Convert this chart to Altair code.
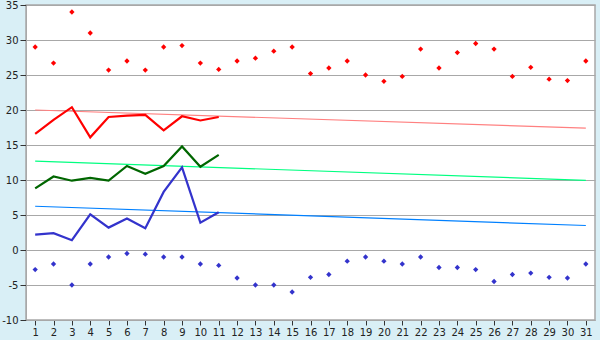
import altair as alt
import pandas as pd

days = list(range(1, 32))
max_pts = [29, 26.7, 34, 31, 25.7, 27, 25.7, 29, 29.2, 26.7, 25.8, 27, 27.4, 28.4, 29,
           25.2, 26, 27, 25, 24.1, 24.8, 28.7, 26, 28.2, 29.5, 28.7, 24.8, 26.1, 24.4, 24.2, 27]
min_pts = [-2.8, -2, -5, -2, -1, -0.5, -0.6, -1, -1, -2, -2.2, -4, -5, -5, -6,
           -3.9, -3.5, -1.6, -1, -1.6, -2, -1, -2.5, -2.5, -2.8, -4.5, -3.5, -3.3, -3.9, -4, -2]

line_days = list(range(1, 12))
red_line = [16.6, 18.6, 20.4, 16.1, 19.0, 19.2, 19.3, 17.1, 19.1, 18.5, 19.0]
green_line = [8.8, 10.5, 9.9, 10.3, 9.9, 12.0, 10.9, 12.0, 14.8, 11.9, 13.6]
blue_line = [2.2, 2.4, 1.4, 5.1, 3.2, 4.5, 3.1, 8.3, 11.8, 3.9, 5.4]

trend_days = [1, 31]
red_trend = [20.0, 17.4]
green_trend = [12.7, 9.95]
blue_trend = [6.25, 3.5]

xs = alt.Scale(domain=[0.5, 31.5], nice=False, zero=False)
ys = alt.Scale(domain=[-10, 35], nice=False, zero=False)

xax = alt.Axis(values=days, title=None, grid=False, tickSize=5, labelPadding=2,
               domainColor="#a8a8a8", tickColor="#333333", labelColor="#222222",
               labelFont="DejaVu Sans", labelFontSize=10, labelFlush=False)
yax = alt.Axis(values=list(range(-10, 40, 5)), title=None, grid=True, gridColor="#a8a8a8",
               tickSize=6, labelPadding=2, domainColor="#a8a8a8", tickColor="#333333",
               labelColor="#222222", labelFont="DejaVu Sans", labelFontSize=10,
               labelExpr="'' + datum.value")

pts = pd.DataFrame({"day": days, "max": max_pts, "min": min_pts})
lines = pd.DataFrame({"day": line_days, "red": red_line, "green": green_line, "blue": blue_line})
trends = pd.DataFrame({"day": trend_days, "red": red_trend, "green": green_trend, "blue": blue_trend})


def enc(ch, col):
    return ch.encode(
        x=alt.X("day:Q", scale=xs, axis=xax),
        y=alt.Y(f"{col}:Q", scale=ys, axis=yax),
    )


layers = []
for col, color in [("red", "#ff8080"), ("green", "#00ff80"), ("blue", "#0080ff")]:
    layers.append(enc(alt.Chart(trends).mark_line(color=color, strokeWidth=1.2), col))
for col, color in [("red", "#ff0000"), ("green", "#006600"), ("blue", "#3333cc")]:
    layers.append(enc(alt.Chart(lines).mark_line(color=color, strokeWidth=2.2), col))
layers.append(enc(alt.Chart(pts).mark_point(shape="diamond", filled=True, color="#ff0000", size=28, opacity=1), "max"))
layers.append(enc(alt.Chart(pts).mark_point(shape="diamond", filled=True, color="#3333cc", size=28, opacity=1), "min"))

chart = alt.layer(*layers).properties(
    width=569, height=315,
    autosize=alt.AutoSizeParams(type="none"),
    padding={"left": 26, "top": 5, "right": 5, "bottom": 20},
    background="#d9eff6",
).configure_view(fill="white", stroke="#a8a8a8", strokeWidth=1.5)

chart.save("out.html", embed_options={"renderer": "svg", "actions": False})
